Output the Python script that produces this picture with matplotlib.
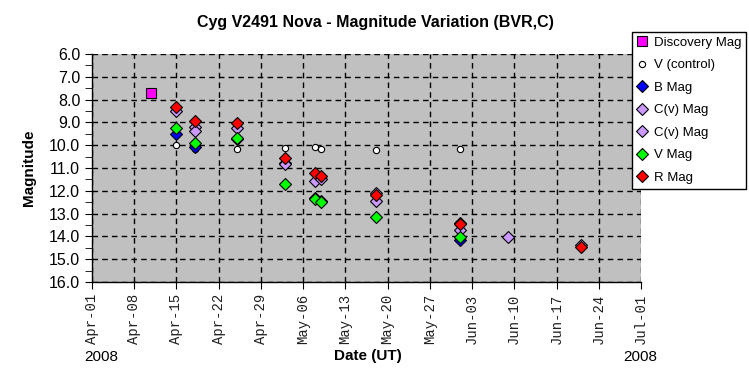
import numpy as np
import matplotlib.pyplot as plt
import matplotlib.dates as mdates
from datetime import datetime, timedelta

# Cyg V2491 Nova light curve, April-June 2008

def d(s):
    # "MM-DD.dd" -> datetime with fractional day
    m, day = s.split('-')
    day = float(day)
    return datetime(2008, int(m), 1) + timedelta(days=day - 1)

disc_dates = ['04-10.7']
disc_mag = [7.70]

vc_dates = ['04-15', '04-18', '04-25', '05-03', '05-08', '05-09', '05-18', '06-01']
vc_mag = [10.00, 10.18, 10.15, 10.14, 10.10, 10.15, 10.21, 10.15]

b_dates = ['04-15', '04-18', '04-25', '05-08', '05-09', '06-01']
b_mag = [9.52, 10.06, 9.74, 12.33, 12.45, 14.16]

cv1_dates = ['04-15', '04-18', '04-25', '05-03', '05-08', '05-09', '05-18', '06-01', '06-09', '06-21']
cv1_mag = [8.50, 9.22, 9.26, 10.77, 11.58, 11.50, 12.45, 13.72, 14.04, 14.38]

cv2_dates = ['04-18', '05-03', '05-18', '06-01']
cv2_mag = [9.36, 10.84, 12.08, 13.42]

v_dates = ['04-15', '04-18', '04-25', '05-03', '05-08', '05-09', '05-18', '06-01']
v_mag = [9.25, 9.89, 9.67, 11.72, 12.37, 12.50, 13.15, 14.01]

r_dates = ['04-15', '04-18', '04-25', '05-03', '05-08', '05-09', '05-18', '06-01', '06-21']
r_mag = [8.34, 8.94, 9.03, 10.56, 11.22, 11.35, 12.18, 13.47, 14.45]

plt.rcParams['font.family'] = ['Liberation Sans', 'DejaVu Sans']

fig = plt.figure(figsize=(7.49, 3.85), dpi=100)
ax = fig.add_axes([92/749, 1-282/385, (641-92)/749, (282-54)/385])
ax.set_facecolor('#C0C0C0')

kw = dict(linestyle='none', markeredgecolor='black', markeredgewidth=0.8)
ax.plot([d(s) for s in disc_dates], disc_mag, marker='s', markersize=6.5,
        color='#FF00FF', label='Discovery Mag', **kw)
ax.plot([d(s) for s in vc_dates], vc_mag, marker='o', markersize=4.5,
        color='white', label='V (control)', **kw)
ax.plot([d(s) for s in b_dates], b_mag, marker='D', markersize=6,
        color='#0000FF', label='B Mag', **kw)
ax.plot([d(s) for s in cv1_dates], cv1_mag, marker='D', markersize=6,
        color='#CC99FF', label='C(v) Mag', **kw)
ax.plot([d(s) for s in cv2_dates], cv2_mag, marker='D', markersize=6,
        color='#CC99FF', label='C(v) Mag', **kw)
ax.plot([d(s) for s in v_dates], v_mag, marker='D', markersize=6,
        color='#00FF00', label='V Mag', **kw)
ax.plot([d(s) for s in r_dates], r_mag, marker='D', markersize=6,
        color='#FF0000', label='R Mag', **kw)

ax.set_xlim(datetime(2008, 4, 1), datetime(2008, 7, 1))
ax.set_ylim(16.0, 6.0)
ax.set_yticks(np.arange(6.0, 16.01, 1.0))
ax.set_yticks(np.arange(6.5, 16.0, 1.0), minor=True)
ax.yaxis.set_major_formatter(plt.FormatStrFormatter('%.1f'))

ticks = [datetime(2008, 4, 1) + timedelta(days=7*i) for i in range(13)] + [datetime(2008, 7, 1)]
ax.set_xticks(ticks)
ax.xaxis.set_major_formatter(mdates.DateFormatter('%b-%d'))
for lab in ax.get_xticklabels():
    lab.set_rotation(90)
    lab.set_family('Liberation Mono')
    lab.set_fontsize(10)
    lab.set_color('#202020')

ax.tick_params(axis='y', which='both', direction='out', labelsize=11.5, length=5)
ax.tick_params(axis='x', direction='out', length=5)
ax.grid(True, which='major', color='black', linestyle=(0, (4, 3)), linewidth=1)
for s in ['top', 'right']:
    ax.spines[s].set_visible(False)
ax.spines['left'].set_linewidth(1)
ax.spines['bottom'].set_linewidth(1)

ax.set_ylabel('Magnitude', fontsize=11, fontweight='bold', labelpad=9)
fig.text(368/749, 1-356/385, 'Date (UT)', fontsize=11, fontweight='bold', ha='center', va='center')
fig.text(101/749, 1-357/385, '2008', fontsize=11, ha='center', va='center')
fig.text(640/749, 1-357/385, '2008', fontsize=11, ha='center', va='center')
fig.text(375/749, 1-22/385, 'Cyg V2491 Nova - Magnitude Variation (BVR,C)',
         fontsize=11.5, fontweight='bold', ha='center', va='center')

leg = fig.legend(loc='upper left', bbox_to_anchor=(632/749, 1-32/385), fontsize=9.5,
                 frameon=True, fancybox=False, edgecolor='black', framealpha=1,
                 labelspacing=0.78, handlelength=0.8, handletextpad=0.5,
                 borderpad=0.35, borderaxespad=0)
leg.get_frame().set_linewidth(1)

fig.savefig('out.png', dpi=100)
